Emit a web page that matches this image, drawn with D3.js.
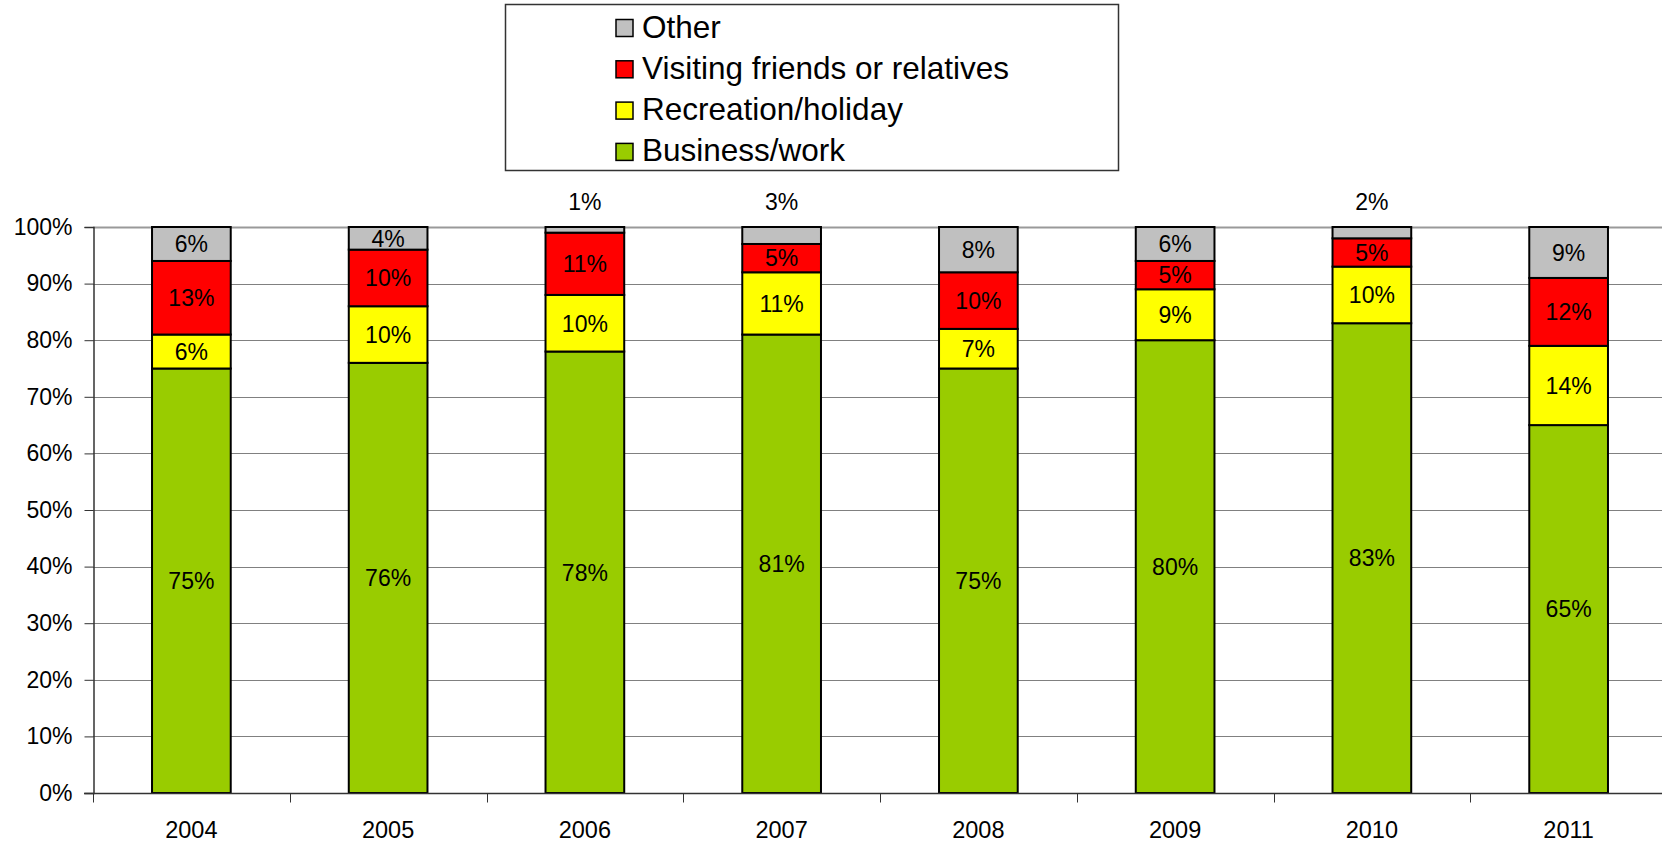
<!DOCTYPE html>
<html>
<head>
<meta charset="utf-8">
<script src="https://cdn.jsdelivr.net/npm/d3@7"></script>
<style>
  body { margin: 0; background: #fff; }
  svg { display: block; font-family: Arial, "Liberation Sans", sans-serif; }
  .gridLines line { stroke: #808080; stroke-width: 1; }
  .barLabel { font-size: 23px; fill: #000; }
</style>
</head>
<body>
<script>
//chart data
var years = ["2004", "2005", "2006", "2007", "2008", "2009", "2010", "2011"];
var business = [75, 76, 78, 81, 75, 80, 83, 65];
var recreation = [6, 10, 10, 11, 7, 9, 10, 14];
var visiting = [13, 10, 11, 5, 10, 5, 5, 12];
var other = [6, 4, 1, 3, 8, 6, 2, 9];
var seriesNames = ["Business/work", "Recreation/holiday", "Visiting friends or relatives", "Other"];
var seriesColors = ["#99CC00", "#FFFF00", "#FF0000", "#C0C0C0"];
var yTicks = [0, 10, 20, 30, 40, 50, 60, 70, 80, 90, 100];

window.onload = drawChart();

function drawChart(){

  var width = 1662,
    height = 844;

  var svg = d3.select("body")
    .append("svg")
    .attr("width", width)
    .attr("height", height);

  //plot frame (runs a bit past the right edge, like the original)
  var left = 93, top = 227, bottom = 793, right = 1667;

  var x = d3.scaleBand()
    .domain(years)
    .range([left, right]);

  var y = d3.scaleLinear()
    .domain([0, 100])
    .range([bottom, top]);

  var barWidth = x.bandwidth() * 0.4;

  //gridlines
  svg.append("g")
    .attr("class", "gridLines")
    .selectAll("line")
    .data(yTicks.filter(function(d){ return d > 0; }))
    .enter()
    .append("line")
    .attr("x1", left)
    .attr("x2", right)
    .attr("y1", function(d){ return Math.round(y(d)) + 0.5; })
    .attr("y2", function(d){ return Math.round(y(d)) + 0.5; })
    .style("stroke-width", function(d){ return d == 100 ? 2 : 1; })
    .style("stroke", function(d){ return d == 100 ? "#999" : "#808080"; });

  //stack the series
  var rows = years.map(function(yr, i){
    return { year: yr, s0: business[i], s1: recreation[i], s2: visiting[i], s3: other[i] };
  });
  var stack = d3.stack().keys(["s0", "s1", "s2", "s3"]);
  var stacked = stack(rows);

  var layers = svg.selectAll(".layer")
    .data(stacked)
    .enter()
    .append("g")
    .attr("class", "layer")
    .attr("fill", function(d, i){ return seriesColors[i]; });

  layers.selectAll("rect")
    .data(function(d){ return d; })
    .enter()
    .append("rect")
    .attr("x", function(d){ return x(d.data.year) + (x.bandwidth() - barWidth) / 2; })
    .attr("y", function(d){ return y(d[1]); })
    .attr("width", barWidth)
    .attr("height", function(d){ return y(d[0]) - y(d[1]); })
    .attr("stroke", "#000")
    .attr("stroke-width", 2);

  //value labels, tiny ones sit above the bar
  layers.selectAll("text")
    .data(function(d){ return d; })
    .enter()
    .append("text")
    .attr("class", "barLabel")
    .attr("text-anchor", "middle")
    .attr("x", function(d){ return x(d.data.year) + x.bandwidth() / 2; })
    .attr("y", function(d){
      var v = d[1] - d[0];
      if (v < 4) return top - 25;
      return (y(d[0]) + y(d[1])) / 2;
    })
    .attr("dy", "0.36em")
    .text(function(d){ return (d[1] - d[0]) + "%"; });

  //y axis
  var yAxis = d3.axisLeft(y)
    .tickValues(yTicks)
    .tickSize(9)
    .tickPadding(12)
    .tickFormat(function(d){ return d + "%"; });

  var yG = svg.append("g")
    .attr("transform", "translate(" + (left + 0.5) + ",0)")
    .call(yAxis);
  yG.select(".domain").attr("stroke", "#333").attr("stroke-width", 1.5);
  yG.selectAll(".tick line").attr("stroke", "#333");
  yG.selectAll("text").style("font-size", "23px").attr("fill", "#000");

  //x axis: ticks at band edges, labels at band centres
  var xG = svg.append("g")
    .attr("transform", "translate(0," + (bottom + 0.5) + ")");
  xG.append("line")
    .attr("x1", left - 9)
    .attr("x2", right)
    .attr("stroke", "#333")
    .attr("stroke-width", 1.5);
  xG.selectAll(".xTick")
    .data(years)
    .enter()
    .append("line")
    .attr("class", "xTick")
    .attr("x1", function(d){ return Math.round(x(d)) + 0.5; })
    .attr("x2", function(d){ return Math.round(x(d)) + 0.5; })
    .attr("y1", 0)
    .attr("y2", 9)
    .attr("stroke", "#333");
  xG.selectAll(".xLabel")
    .data(years)
    .enter()
    .append("text")
    .attr("class", "xLabel")
    .attr("text-anchor", "middle")
    .attr("x", function(d){ return x(d) + x.bandwidth() / 2; })
    .attr("y", 44)
    .style("font-size", "23.5px")
    .text(function(d){ return d; });

  //legend
  var legend = svg.append("g").attr("class", "legend");
  legend.append("rect")
    .attr("x", 505.5)
    .attr("y", 4.5)
    .attr("width", 613)
    .attr("height", 166)
    .attr("fill", "#fff")
    .attr("stroke", "#333")
    .attr("stroke-width", 1.5);

  var order = [3, 2, 1, 0];
  var items = legend.selectAll(".legendItem")
    .data(order)
    .enter()
    .append("g")
    .attr("class", "legendItem")
    .attr("transform", function(d, i){ return "translate(616," + (37.5 + i * 41.3) + ")"; });

  items.append("rect")
    .attr("x", 0)
    .attr("y", -18)
    .attr("width", 17)
    .attr("height", 17)
    .attr("fill", function(d){ return seriesColors[d]; })
    .attr("stroke", "#000")
    .attr("stroke-width", 1.5);

  items.append("text")
    .attr("x", 26)
    .attr("y", 0)
    .style("font-size", "31.5px")
    .text(function(d){ return seriesNames[d]; });
}
</script>
</body>
</html>
